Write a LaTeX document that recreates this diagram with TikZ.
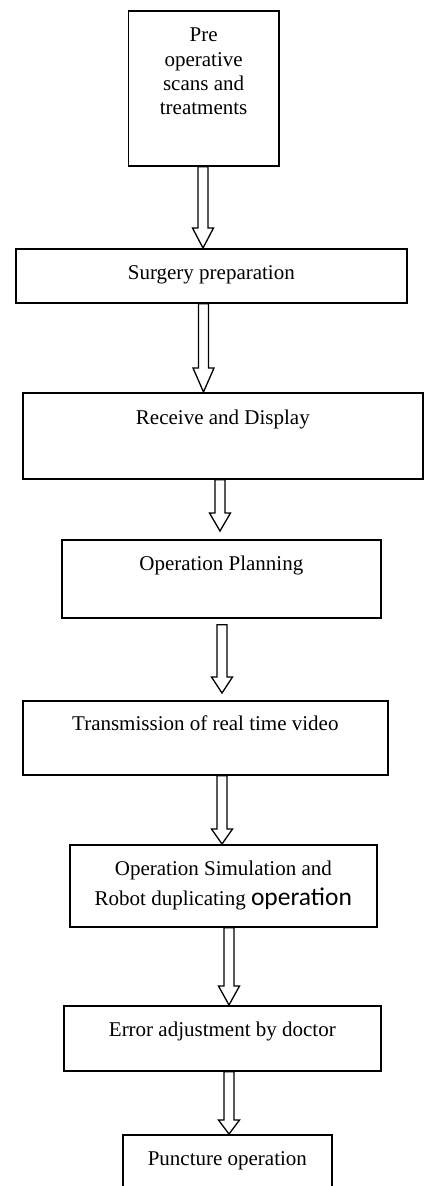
\documentclass[tikz,border=0pt]{standalone}
\usepackage{fontspec}
\setmainfont{Liberation Serif}
\newfontfamily\calfont{Carlito}
\usetikzlibrary{calc}

\tikzset{
  stage/.style={draw, line width=1.7pt, anchor=north west, inner sep=0pt,
    align=center, font=\fontsize{21}{24.3}\selectfont},
  hollow/.style={draw, line width=1.3pt, line join=miter,
    to path={let \p1=(\tikztostart), \p2=(\tikztotarget) in
      (\x1-5pt,\y1) -- (\x1-5pt,\y2+#1pt) -- (\x1-10.5pt,\y2+#1pt) -- (\x1,\y2)
      -- (\x1+10.5pt,\y2+#1pt) -- (\x1+5pt,\y2+#1pt) -- (\x1+5pt,\y1) -- cycle}},
  hollow/.default=18
}

\begin{document}
\begin{tikzpicture}[x=1pt,y=-1pt]
\useasboundingbox (0,0) rectangle (423,1186);
% the stages
\node[stage, minimum width=150.5, minimum height=155, text height=104pt, text depth=51pt] (pre) at (127.5,10) {Pre\\operative\\scans and\\treatments};
\node[stage, minimum width=391, minimum height=54, text height=31pt, text depth=23pt] (surg) at (15,248) {Surgery preparation};
\node[stage, minimum width=400, minimum height=86, text height=32pt, text depth=54pt] (recv) at (22,392) {Receive and Display};
\node[stage, minimum width=319, minimum height=78, text height=31pt, text depth=47pt] (plan) at (61,539) {Operation Planning};
\node[stage, minimum width=365, minimum height=74, text height=30pt, text depth=44pt] (trans) at (22,700) {Transmission of real time video};
\node[stage, minimum width=307, minimum height=82, text height=61pt, text depth=21pt] (sim) at (69,844) {Operation Simulation and\\[5.7pt]Robot duplicating {\calfont\fontsize{25.5}{28}\selectfont operation}};
\node[stage, minimum width=317, minimum height=65, text height=31pt, text depth=34pt] (err) at (63,1005) {Error adjustment by doctor};
\node[stage, minimum width=209, minimum height=70, text height=31pt, text depth=39pt] (punc) at (122,1134) {Puncture operation};
% hollow arrows
\draw[hollow=20] (pre.south -| 203,0) to (surg.north -| 203,0);
\draw[hollow=24] (surg.south -| 203.5,0) to (recv.north -| 203.5,0);
\draw[hollow=18] (recv.south -| 220,0) to ([yshift=8pt]plan.north -| 220,0);
\draw[hollow=16] ([yshift=-6pt]plan.south -| 222,0) to ([yshift=7pt]trans.north -| 222,0);
\draw[hollow=15] (trans.south -| 222,0) to (sim.north -| 222,0);
\draw[hollow=19] (sim.south -| 229,0) to (err.north -| 229,0);
\draw[hollow=14] (err.south -| 229,0) to (punc.north -| 229,0);
\end{tikzpicture}
\end{document}
